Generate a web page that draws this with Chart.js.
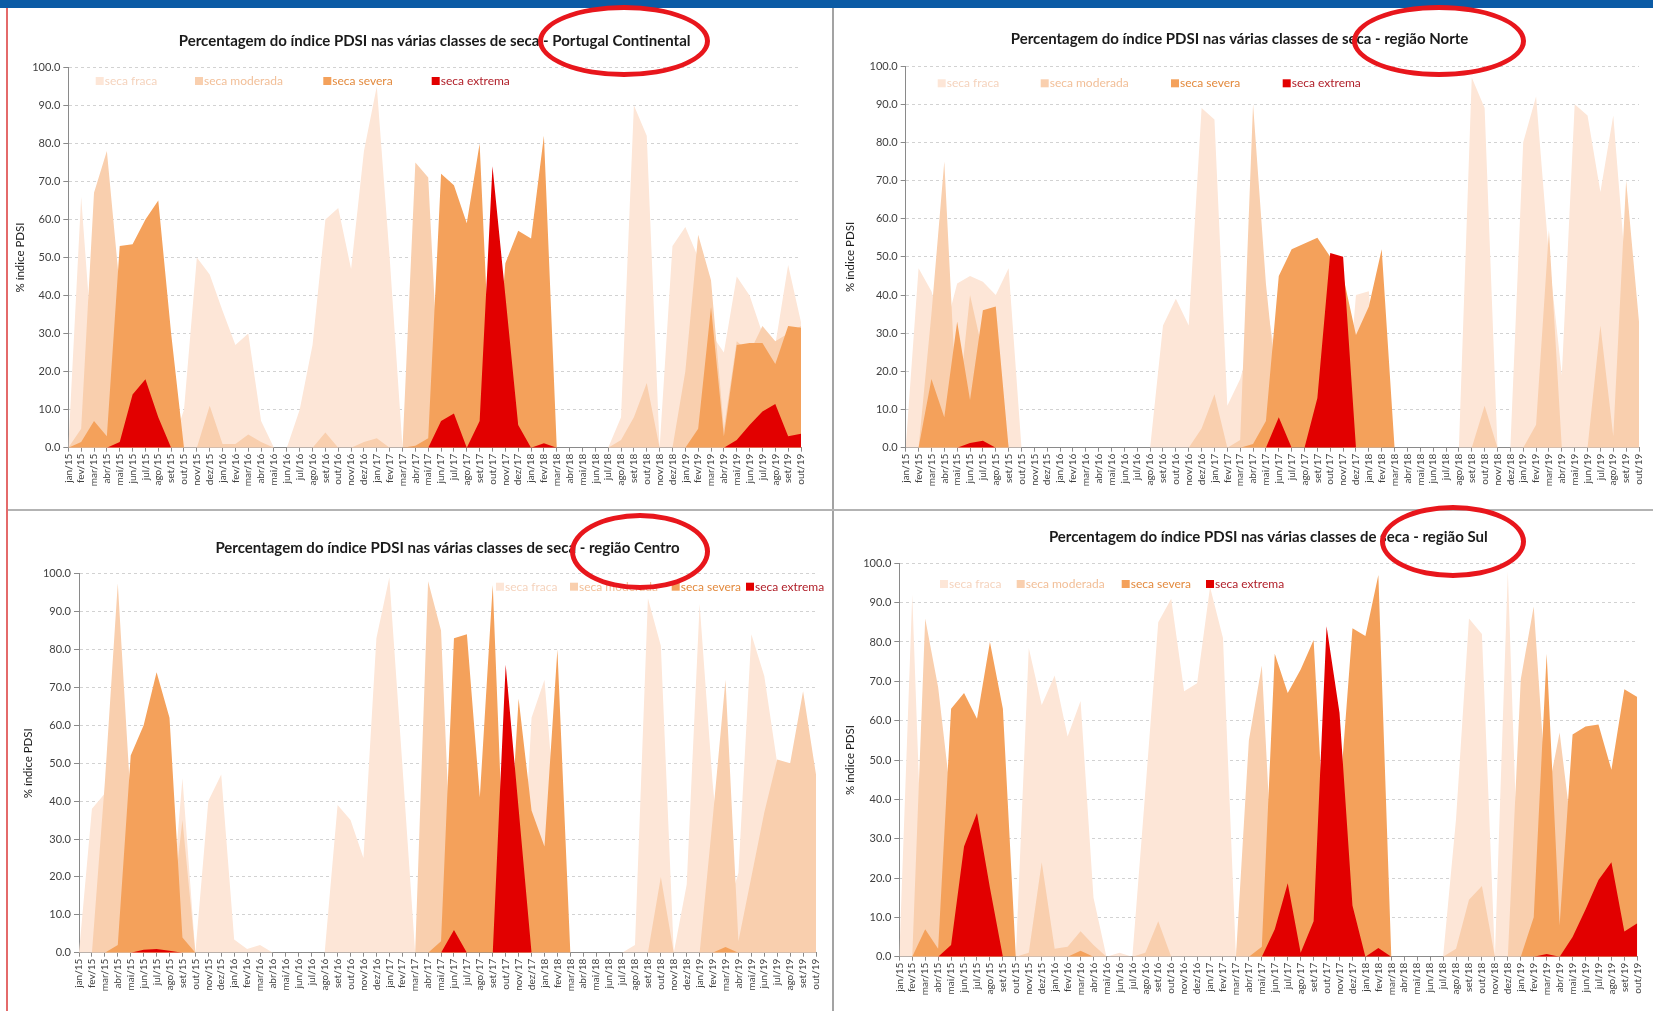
<!DOCTYPE html>
<html>
<head>
<meta charset="utf-8">
<script src="https://cdn.jsdelivr.net/npm/chart.js@4.4.0/dist/chart.umd.min.js"></script>
<style>
html,body{margin:0;padding:0;background:#fff;}
body{width:1653px;height:1011px;position:relative;overflow:hidden;}
.panel{position:absolute;}
.deco{position:absolute;z-index:5;}
.ell{position:absolute;z-index:6;border:5px solid #e8161c;border-radius:50%;box-sizing:border-box;}
</style>
</head>
<body>
<div class="deco" style="left:0;top:0;width:1653px;height:8px;background:#0b5ba5"></div>
<div class="deco" style="left:6px;top:8px;width:2px;height:1003px;background:#e46a6a"></div>
<div class="deco" style="left:832px;top:8px;width:2px;height:1003px;background:#a3a3a3"></div>
<div class="deco" style="left:8px;top:509px;width:1645px;height:2px;background:#b3b3b3"></div>

<div class="panel" style="left:8px;top:8px"><canvas id="c1" width="824" height="501"></canvas></div>
<div class="panel" style="left:834px;top:8px"><canvas id="c2" width="819" height="501"></canvas></div>
<div class="panel" style="left:8px;top:511px"><canvas id="c3" width="824" height="500"></canvas></div>
<div class="panel" style="left:834px;top:511px"><canvas id="c4" width="819" height="500"></canvas></div>

<div class="ell" style="left:538px;top:5px;width:172px;height:72px"></div>
<div class="ell" style="left:1352px;top:5px;width:174px;height:72px"></div>
<div class="ell" style="left:570px;top:513px;width:140px;height:77px"></div>
<div class="ell" style="left:1380px;top:505px;width:146px;height:73px"></div>

<script>
// ---------- DATA ----------
const months = [
  "jan/15","fev/15","mar/15","abr/15","mai/15","jun/15","jul/15","ago/15","set/15","out/15","nov/15","dez/15",
  "jan/16","fev/16","mar/16","abr/16","mai/16","jun/16","jul/16","ago/16","set/16","out/16","nov/16","dez/16",
  "jan/17","fev/17","mar/17","abr/17","mai/17","jun/17","jul/17","ago/17","set/17","out/17","nov/17","dez/17",
  "jan/18","fev/18","mar/18","abr/18","mai/18","jun/18","jul/18","ago/18","set/18","out/18","nov/18","dez/18",
  "jan/19","fev/19","mar/19","abr/19","mai/19","jun/19","jul/19","ago/19","set/19","out/19"
];
const seriesNames = ["seca fraca", "seca moderada", "seca severa", "seca extrema"];
const panelTitles = [
  "Percentagem do índice PDSI nas várias classes de seca - Portugal Continental",
  "Percentagem do índice PDSI nas várias classes de seca - região Norte",
  "Percentagem do índice PDSI nas várias classes de seca - região Centro",
  "Percentagem do índice PDSI nas várias classes de seca - região Sul"
];
const yAxisTitle = "% índice PDSI";

// Portugal Continental
const ptFraca = [
  0, 66, 20, 40, 30, 20, 10, 5, 0, 10, 50, 45.5,
  36, 27, 30, 7, 0, 0, 10, 27, 60, 63, 47, 78,
  95, 50, 0, 0, 0, 0, 0, 0, 0, 0, 0, 0,
  0, 0, 0, 0, 0, 0, 0, 8, 90, 82, 0, 53,
  58, 50, 30, 25, 45, 40, 30, 27, 48, 33
];
const ptModerada = [
  0, 5, 67, 78, 42, 20, 10, 5, 0, 0, 0, 11,
  1, 1, 3.5, 1.5, 0, 0, 0, 0, 4, 0, 0, 1.5,
  2.5, 0, 0, 75, 71, 5, 0, 0, 0, 0, 0, 0,
  0, 0, 0, 0, 0, 0, 0, 2, 8, 17, 0, 0,
  20, 56, 44, 5, 28, 25, 32, 28, 30, 32
];
const ptSevera = [
  0, 1.5, 7, 3, 53, 53.5, 60, 65, 30, 0, 0, 0,
  0, 0, 0, 0, 0, 0, 0, 0, 0, 0, 0, 0,
  0, 0, 0, 0.5, 2.5, 72, 69, 59, 80, 5, 48.5, 57,
  55, 82, 0, 0, 0, 0, 0, 0, 0, 0, 0, 0,
  0, 5, 37, 3, 27, 27.5, 27.5, 22, 32, 31.5
];
const ptExtrema = [
  0, 0, 0, 0, 1.5, 14, 18, 8, 0, 0, 0, 0,
  0, 0, 0, 0, 0, 0, 0, 0, 0, 0, 0, 0,
  0, 0, 0, 0, 0, 7, 9, 0, 7, 74, 40, 6,
  0, 1.2, 0, 0, 0, 0, 0, 0, 0, 0, 0, 0,
  0, 0, 0, 0, 2, 6, 9.5, 11.5, 3, 3.7
];

// Região Norte
const norteFraca = [
  0, 47, 41, 30, 43, 45, 43.5, 40, 47, 0, 0, 0,
  0, 0, 0, 0, 0, 0, 0, 0, 32, 39, 32, 89,
  86, 11, 18, 30, 38, 20, 0, 0, 0, 0, 0, 40,
  41, 0, 0, 0, 0, 0, 0, 0, 97, 89, 0, 0,
  80, 92, 50, 19, 90, 87, 67, 87, 45, 25
];
const norteModerada = [
  0, 0, 35, 75, 8, 40, 25, 20, 0, 0, 0, 0,
  0, 0, 0, 0, 0, 0, 0, 0, 0, 0, 0, 5,
  14, 0, 2, 90, 43, 10, 0, 0, 0, 0, 0, 0,
  0, 0, 0, 0, 0, 0, 0, 0, 0, 11, 0, 0,
  0, 6, 57, 0, 0, 0, 32, 3, 70, 33
];
const norteSevera = [
  0, 0, 18, 8, 33, 12.5, 36, 37, 0, 0, 0, 0,
  0, 0, 0, 0, 0, 0, 0, 0, 0, 0, 0, 0,
  0, 0, 0, 1, 7, 45, 52, 53.5, 55, 50, 45, 29.5,
  37, 52, 0, 0, 0, 0, 0, 0, 0, 0, 0, 0,
  0, 0, 0, 0, 0, 0, 0, 0, 0, 0
];
const norteExtrema = [
  0, 0, 0, 0, 0, 1.2, 1.8, 0, 0, 0, 0, 0,
  0, 0, 0, 0, 0, 0, 0, 0, 0, 0, 0, 0,
  0, 0, 0, 0, 0, 8, 0, 0, 13, 51, 50, 0,
  0, 0, 0, 0, 0, 0, 0, 0, 0, 0, 0, 0,
  0, 0, 0, 0, 0, 0, 0, 0, 0, 0
];

// Região Centro
const centroFraca = [
  0, 38, 42, 40, 30, 20, 10, 5, 46, 0, 40, 47,
  3.5, 1, 2, 0, 0, 0, 0, 0, 39, 35, 25, 83,
  99, 50, 0, 0, 0, 0, 0, 0, 0, 0, 0, 62,
  72, 30, 0, 0, 0, 0, 0, 2, 93.5, 81, 0, 18,
  92, 45, 10, 21, 84, 73, 50, 40, 30, 20
];
const centroModerada = [
  0, 0, 45, 97.5, 40, 20, 10, 5, 35, 0, 0, 0,
  0, 0, 0, 0, 0, 0, 0, 0, 0, 0, 0, 0,
  0, 0, 0, 98, 85, 5, 0, 0, 0, 0, 0, 0,
  0, 0, 0, 0, 0, 0, 0, 0, 0, 20, 0, 0,
  0, 35, 72, 3, 20, 37, 51, 50, 69, 47
];
const centroSevera = [
  0, 0, 0, 2, 52, 60, 74, 62, 4, 0, 0, 0,
  0, 0, 0, 0, 0, 0, 0, 0, 0, 0, 0, 0,
  0, 0, 0, 0, 3, 83, 84, 41, 97, 10, 67, 37.5,
  28, 80, 0, 0, 0, 0, 0, 0, 0, 0, 0, 0,
  0, 0, 1.5, 0, 0, 0, 0, 0, 0, 0
];
const centroExtrema = [
  0, 0, 0, 0, 0, 0.8, 1, 0.5, 0, 0, 0, 0,
  0, 0, 0, 0, 0, 0, 0, 0, 0, 0, 0, 0,
  0, 0, 0, 0, 0, 6, 0, 0, 0, 76, 38, 0,
  0, 0, 0, 0, 0, 0, 0, 0, 0, 0, 0, 0,
  0, 0, 0, 0, 0, 0, 0, 0, 0, 0
];

// Região Sul
const sulFraca = [
  0, 92, 0, 30, 20, 10, 5, 0, 0, 0, 78.5, 64,
  71.5, 56, 65, 15, 0, 1, 0, 42, 85, 91, 67.5, 69.5,
  94, 81, 0, 30, 20, 0, 0, 0, 0, 0, 0, 0,
  0, 0, 0, 0, 0, 0, 0, 35, 86, 82, 0, 98,
  0, 0, 0, 0, 0, 0, 0, 0, 0, 0
];
const sulModerada = [
  0, 0, 86, 68.5, 40, 20, 10, 5, 0, 0, 1, 24,
  2, 2.5, 6.5, 3, 0, 0, 0, 1, 9, 0, 0, 0,
  0, 0, 0, 55, 74, 10, 0, 0, 0, 0, 0, 0,
  0, 0, 0, 0, 0, 0, 0, 2, 14.5, 18, 0, 0,
  70.5, 89, 40, 57, 30, 25, 20, 15, 20, 20
];
const sulSevera = [
  0, 0, 7, 2, 63, 67, 60.5, 80, 63, 0, 0, 0,
  0, 0, 1.5, 0, 0, 0, 0, 0, 0, 0, 0, 0,
  0, 0, 0, 0, 2.5, 77, 67, 73, 80.5, 20, 40, 83.5,
  81.5, 97, 0, 0, 0, 0, 0, 0, 0, 0, 0, 0,
  0, 10, 77, 8, 56.5, 58.5, 59, 47.5, 68, 66
];
const sulExtrema = [
  0, 0, 0, 0, 3, 28, 36.5, 17.5, 0, 0, 0, 0,
  0, 0, 0, 0, 0, 0, 0, 0, 0, 0, 0, 0,
  0, 0, 0, 0, 0, 7, 18.7, 1, 9, 84, 62, 13,
  0, 2.2, 0, 0, 0, 0, 0, 0, 0, 0, 0, 0,
  0, 0, 0.7, 0, 5, 12, 19.5, 24, 6.4, 8.5
];

// ---------- STYLE / LAYOUT ----------
const seriesColors = ["#fde6d7", "#f9cfae", "#f4a15b", "#e20000"];
const legendTextColors = ["#f5d3bd", "#f2bf98", "#e38a3e", "#b01e28"];

const panels = [
  { id: "c1", box: [8, 8, 824, 501], area: [68.3, 67.3, 801, 447.7], titleY: 41, titleFull: false,
    yTitleX: 20, legendX: [95.7, 195, 323.3, 431.7], legendY: 81,
    data: [ptFraca, ptModerada, ptSevera, ptExtrema] },
  { id: "c2", box: [834, 8, 819, 501], area: [905.7, 66, 1645, 447.7], titleY: 39.5, titleFull: true,
    yTitleX: 850.7, legendX: [937.7, 1040.7, 1171, 1282.7], legendY: 83.3,
    data: [norteFraca, norteModerada, norteSevera, norteExtrema] },
  { id: "c3", box: [8, 511, 824, 500], area: [79, 573.7, 816, 952.7], titleY: 548, titleFull: false,
    yTitleX: 28, legendX: [496, 570, 671.7, 746], legendY: 586.7,
    data: [centroFraca, centroModerada, centroSevera, centroExtrema] },
  { id: "c4", box: [834, 511, 819, 500], area: [899.3, 563.3, 1637.3, 956.7], titleY: 537.3, titleFull: false,
    yTitleX: 850.7, legendX: [940, 1016.7, 1121.7, 1206], legendY: 584,
    data: [sulFraca, sulModerada, sulSevera, sulExtrema] }
];

Chart.defaults.font.family = "Lato, 'Noto Sans', 'DejaVu Sans', sans-serif";
Chart.defaults.animation = false;

const inPlotLegend = {
  id: "inPlotLegend",
  afterDatasetsDraw(chart, args, opts) {
    const ctx = chart.ctx;
    ctx.save();
    ctx.font = `${opts.size}px ${Chart.defaults.font.family}`;
    ctx.textBaseline = "middle";
    ctx.textAlign = "left";
    chart.data.datasets.forEach((ds, i) => {
      const x = opts.xs[i];
      const y = opts.y;
      ctx.fillStyle = ds.backgroundColor;
      ctx.fillRect(x, y - 4, 8, 8);
      ctx.fillStyle = opts.colors[i];
      ctx.fillText(ds.label, x + 9, y);
    });
    ctx.restore();
  }
};

panels.forEach((p, idx) => {
  const [bx, by, bw, bh] = p.box;
  const [al, at, ar, ab] = p.area;
  const titleSize = 15;
  const lh = titleSize * 1.2;
  const tRel = p.titleY - by;
  const topRel = at - by;
  const yTitleLh = 11.5 * 1.2;

  new Chart(document.getElementById(p.id), {
    type: "line",
    data: {
      labels: months,
      datasets: seriesNames.map((name, k) => ({
        label: name,
        data: p.data[k],
        fill: "origin",
        backgroundColor: seriesColors[k],
        borderColor: seriesColors[k],
        borderWidth: 0,
        pointRadius: 0,
        pointHoverRadius: 0,
        tension: 0,
        order: 4 - k
      }))
    },
    options: {
      responsive: false,
      animation: false,
      events: [],
      layout: { padding: { left: 0, top: 0, right: bx + bw - ar, bottom: 0 } },
      plugins: {
        legend: { display: false },
        tooltip: { enabled: false },
        title: {
          display: true,
          text: panelTitles[idx],
          fullSize: p.titleFull,
          color: "#1b1b1b",
          font: { size: titleSize, weight: "bold" },
          padding: { top: tRel - lh / 2, bottom: topRel - tRel - lh / 2 }
        },
        inPlotLegend: {
          xs: p.legendX.map(v => v - bx),
          y: p.legendY - by,
          size: 12,
          colors: legendTextColors
        }
      },
      scales: {
        x: {
          type: "category",
          offset: false,
          grid: { display: true, drawOnChartArea: false, drawTicks: true, tickLength: 4, tickColor: "#8a8a8a" },
          border: { color: "#8a8a8a", width: 1 },
          ticks: { autoSkip: false, maxRotation: 90, minRotation: 90, color: "#404040", font: { size: 10 }, padding: 2 },
          afterFit: s => { s.height = by + bh - ab; }
        },
        y: {
          min: 0,
          max: 100,
          ticks: { stepSize: 10, callback: v => Number(v).toFixed(1), color: "#404040", font: { size: 11 }, padding: 3 },
          grid: { color: "#d2d2d2", tickColor: "#8a8a8a", tickLength: 5, drawTicks: true },
          border: { color: "#8a8a8a", width: 1, dash: [3, 3] },
          title: {
            display: true,
            text: yAxisTitle,
            color: "#1b1b1b",
            font: { size: 11.5 },
            padding: { top: (p.yTitleX - bx) - yTitleLh / 2, bottom: 0 }
          },
          afterFit: s => { s.width = al - bx; }
        }
      }
    },
    plugins: [inPlotLegend]
  });
});
</script>
</body>
</html>
